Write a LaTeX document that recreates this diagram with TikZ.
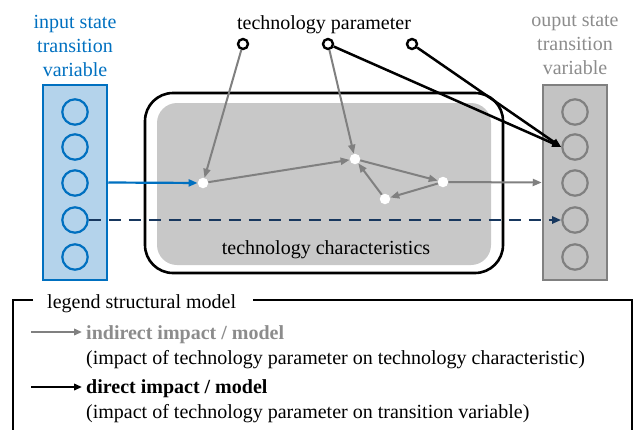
\documentclass[tikz,border=0pt]{standalone}
\usepackage{fontspec}
\setmainfont{Liberation Serif}
\usetikzlibrary{arrows.meta}
\definecolor{myblue}{RGB}{0,112,192}
\definecolor{lightblue}{RGB}{180,211,235}
\definecolor{midgray}{RGB}{128,128,128}
\definecolor{txtgray}{RGB}{140,140,140}
\definecolor{fillgray}{RGB}{200,200,200}
\definecolor{boxgray}{RGB}{195,195,195}
\definecolor{navy}{RGB}{23,55,94}
\begin{document}
\begin{tikzpicture}[x=1pt,y=-1pt,
  font=\fontsize{20}{24}\selectfont,
  tipA/.style={-{Triangle[length=9pt,width=7pt]}},
  varbox/.style={rectangle,line width=2.5pt,minimum width=64pt,minimum height=195pt,inner sep=0pt},
  varcirc/.style={circle,line width=2.2pt,minimum size=25.4pt,inner sep=0pt},
  param/.style={circle,draw=black,fill=white,line width=2.4pt,minimum size=10pt,inner sep=0pt},
  wdot/.style={circle,fill=white,minimum size=10.5pt,inner sep=0pt},
  garrow/.style={tipA,draw=midgray,line width=2pt},
  karrow/.style={tipA,draw=black,line width=2.5pt},
  lbl/.style={inner sep=0pt,align=center,anchor=north},
  legtext/.style={inner sep=0pt,anchor=base west}
]
\useasboundingbox (0,0) rectangle (634,429);

% labels
\node[lbl,text=myblue] (inlbl) at (75,15.5) {input state\\transition\\variable};
\node[lbl,text=txtgray] (outlbl) at (575,15.5) {ouput state\\transition\\variable};
\node[inner sep=0pt,anchor=base] (tplbl) at (324,29.5) {technology parameter};

% technology characteristics
\node[draw=black,line width=2.6pt,rounded corners=28pt,minimum width=358pt,minimum height=180pt,inner sep=0pt] (outer) at (324,183) {};
\node[fill=fillgray,rounded corners=20pt,minimum width=334pt,minimum height=162pt,inner sep=0pt] (inner) at (324,184) {};
\node[inner sep=0pt,anchor=base] (tclbl) at (326,254) {technology characteristics};

% input and output boxes
\node[varbox,draw=myblue,fill=lightblue] (inbox) at (75,182.5) {};
\node[varbox,draw=midgray,fill=boxgray] (outbox) at (575,182.5) {};
\foreach \i/\y in {1/112,2/147,3/183,4/220,5/257}{
  \node[varcirc,draw=myblue] (in\i) at (75,\y) {};
  \node[varcirc,draw=midgray] (out\i) at (575,\y) {};
}

% parameters
\node[param] (p1) at (243,44) {};
\node[param] (p2) at (328,44) {};
\node[param] (p3) at (412,44) {};

% characteristic dots
\node[wdot] (d1) at (203,183) {};
\node[wdot] (d2) at (355,159) {};
\node[wdot] (d3) at (443,182) {};
\node[wdot] (d4) at (385,199) {};

% connectors
\draw[tipA,draw=myblue,line width=2.2pt] (inbox.east) -- (d1);
\draw[garrow] (p1) -- (d1);
\draw[garrow] (d1) -- (d2);
\draw[garrow] (p2) -- (d2);
\draw[garrow] (d2) -- (d3);
\draw[garrow] (d3) -- (d4);
\draw[garrow] (d4) -- (d2);
\draw[garrow] (d3) -- (outbox.west);
\draw[-{Triangle[length=9pt,width=7pt]},draw=navy,line width=2.5pt,dash pattern=on 12pt off 8pt] (in4.east) -- (out4.west);
\draw[karrow] (p2) -- (out2.west);
\draw[karrow] (p3) -- (out2.west);

% legend
\node[legtext] (legtitle) at (47,308) {legend structural model};
\draw[line width=2.8pt] (33,300) -- (13,300) -- (13,440);
\draw[line width=2.8pt] (253,300) -- (632,300) -- (632,440);
\node[legtext,text=txtgray,font=\fontsize{20}{24}\selectfont\bfseries] (ind) at (86,339) {indirect impact / model};
\node[legtext] (indd) at (86,364) {(impact of technology parameter on technology characteristic)};
\node[legtext,font=\fontsize{20}{24}\selectfont\bfseries] (dir) at (86,393) {direct impact / model};
\node[legtext] (dird) at (86,418) {(impact of technology parameter on transition variable)};
\coordinate (ga) at (31,332);
\coordinate (kb) at (31,387);
\draw[-{Triangle[length=8pt,width=6.5pt]},draw=midgray,line width=2.2pt] (ga) -- ([xshift=-4pt]ind.west |- ga);
\draw[-{Triangle[length=8pt,width=6.5pt]},draw=black,line width=2.2pt] (kb) -- ([xshift=-4pt]dir.west |- kb);
\end{tikzpicture}
\end{document}
